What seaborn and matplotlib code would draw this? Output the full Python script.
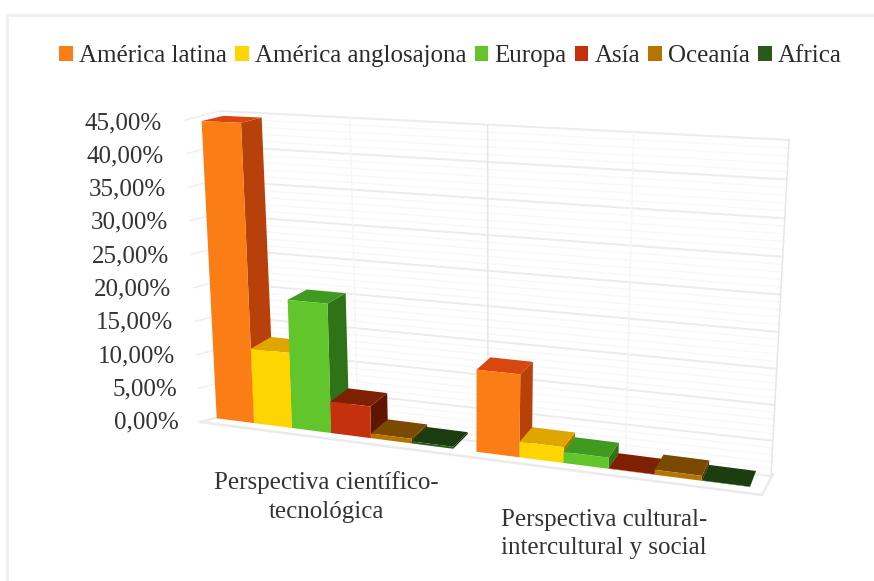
import numpy as np
import pandas as pd
import matplotlib
matplotlib.use("Agg")
import matplotlib.pyplot as plt
from matplotlib.transforms import Transform, Affine2D
from matplotlib.patches import Polygon, Rectangle
import seaborn as sns

W, H = 874, 581

categories = ["Perspectiva científico-\ntecnológica", "Perspectiva cultural-\nintercultural y social"]
regions = ["América latina", "América anglosajona", "Europa", "Asía", "Oceanía", "Africa"]
science_values = [44.4, 11.5, 19.4, 4.8, 0.7, 0.3]
culture_values = [12.0, 2.3, 1.6, 0.05, 0.7, 0.05]
tick_values = [0, 5, 10, 15, 20, 25, 30, 35, 40, 45]
tick_labels = ["0,00%", "5,00%", "10,00%", "15,00%", "20,00%", "25,00%", "30,00%", "35,00%", "40,00%", "45,00%"]
front_colors = ["#FB7D16", "#FFD500", "#62C52B", "#C4310C", "#B87400", "#2A5A18"]
top_colors = ["#D8470F", "#DFA600", "#3F9A1F", "#7F1F04", "#7A4A00", "#1C3D10"]
side_colors = ["#B8400B", "#A87A00", "#2E7318", "#5F1500", "#5A3800", "#13300B"]

sns.set_theme(style="white")
plt.rcParams["font.family"] = ["Liberation Serif", "DejaVu Serif"]
plt.rcParams["text.color"] = "#2b2b2b"


def homography(src, dst):
    rows, rhs = [], []
    for (x, y), (u, v) in zip(src, dst):
        rows.append([x, y, 1, 0, 0, 0, -u * x, -u * y]); rhs.append(u)
        rows.append([0, 0, 0, x, y, 1, -v * x, -v * y]); rhs.append(v)
    return np.append(np.linalg.solve(np.array(rows, float), np.array(rhs, float)), 1).reshape(3, 3)


class Plane(Transform):
    input_dims = output_dims = 2
    is_affine = False

    def __init__(self, m):
        super().__init__()
        self.m = m

    def transform_non_affine(self, values):
        v = np.asarray(values, float)
        p = np.c_[v, np.ones(len(v))] @ self.m.T
        return p[:, :2] / p[:, 2:]


to_display = Affine2D().scale(1, -1).translate(0, H)

df = pd.DataFrame({
    "category": np.repeat(categories, len(regions)),
    "region": regions * 2,
    "value": science_values + culture_values,
})

fig = plt.figure(figsize=(W / 100, H / 100), dpi=100, facecolor="white")
ax = fig.add_axes([0, 0, 1, 1])
bar_width = 0.916
sns.barplot(data=df, x="category", y="value", hue="region", hue_order=regions,
            palette=front_colors, width=bar_width, gap=0, saturation=1, dodge=True,
            errorbar=None, ax=ax, linewidth=0)
ax.set_ylim(0, 45)
ax.set_axis_off()

# perspective of the plane holding the bar fronts
x0, x1 = -bar_width / 2, 1 + bar_width / 2
front_m = homography([(x0, 0), (x1, 0), (x0, 45), (x1, 45)],
                     [(216.7, 418.3), (750, 487), (201.4, 116.8), (770, 142)])
front = Plane(front_m)
front_display = front + to_display
VP = np.array([958.0, -61.0])
DEPTH = 0.0287


def back(pts):
    p = np.asarray(pts, float)
    return p + DEPTH * (VP - p)


# back wall, floor and left wall
wall_m = homography([(0, 0), (4, 0), (0, 45), (4, 45)],
                    [(235, 413), (771, 476), (220, 111), (789, 140)])
wall = Plane(wall_m) + to_display
GRID, MINOR = "#ececec", "#f8f8f8"
for v in range(0, 46):
    major = v % 5 == 0
    ax.plot([0, 4], [v, v], transform=wall, color=GRID if major else MINOR,
            lw=1.4 if major else 1.0, zorder=1, clip_on=False)
for u in range(5):
    ax.plot([u, u], [0, 45], transform=wall, color="#e6e6e6" if u in (2, 4) else "#f6f6f6",
            lw=1.1, zorder=1, clip_on=False)

side_m = homography([(0, 0), (1, 0), (0, 45), (1, 45)],
                    [(200, 422), (235, 413), (185, 120), (220, 111)])
side_wall = Plane(side_m) + to_display
for v in tick_values:
    ax.plot([0, 1], [v, v], transform=side_wall, color="#f0f0f0", lw=1.2, zorder=1, clip_on=False)

floor = [[(200, 422), (762, 495)], [(762, 495), (773, 474)], [(200, 422), (235, 413)]]
for (a, b) in floor:
    ax.plot([a[0], b[0]], [a[1], b[1]], transform=to_display, color="#ebebeb", lw=1.8, zorder=1,
            clip_on=False, solid_capstyle="round")

# extrude the bars that seaborn drew
bars = [p for p in ax.patches if isinstance(p, Rectangle) and p.get_width() > 0]
bars.sort(key=lambda p: p.get_x())
for i, bar in enumerate(bars):
    xa, w, h = bar.get_x(), bar.get_width(), bar.get_height()
    color_index = front_colors.index(matplotlib.colors.to_hex(bar.get_facecolor()).upper())
    bar.set_transform(front_display)
    bar.set_clip_on(False)
    bar.set_zorder(10 + i + 0.3)
    bar.set_edgecolor("none")
    corners = front.transform(np.array([[xa, 0], [xa + w, 0], [xa + w, h], [xa, h]]))
    bl, br, tr, tl = corners
    bbl, bbr, btr, btl = back(corners)
    ax.add_patch(Polygon([br, tr, btr, bbr], closed=True, transform=to_display, fc=side_colors[color_index],
                         ec="none", zorder=10 + i + 0.1, clip_on=False))
    ax.add_patch(Polygon([tl, tr, btr, btl], closed=True, transform=to_display, fc=top_colors[color_index],
                         ec="none", zorder=10 + i + 0.2, clip_on=False))

# value axis labels follow the leaning front edge of the left wall
for v, label in zip(tick_values, tick_labels):
    px = 179 - 17 * v / 45
    py = 422.7 - 299.7 * v / 45
    ax.text(px, py, label, transform=to_display, ha="right", va="center", fontsize=18, color="#333333")

# category labels
for label, (cx, cy) in zip(categories, [(326, 497), (604, 534)]):
    ax.text(cx, cy, label, transform=to_display, ha="center", va="center", fontsize=18,
            linespacing=1.38, color="#333333")

sns.move_legend(ax, "center", bbox_to_anchor=(450.5 / W, 1 - 56 / H), bbox_transform=fig.transFigure,
                ncol=6, frameon=False, title=None, fontsize=18, handlelength=0.55, handleheight=0.55,
                handletextpad=0.24, columnspacing=0.33, borderpad=0, borderaxespad=0)

# light frame of the original picture
ax.plot([7, 7, W], [H, 14.5, 14.5], transform=to_display, color="#f0f0f0", lw=2.2, zorder=0, clip_on=False)

fig.savefig("out.png", dpi=100, facecolor="white")
